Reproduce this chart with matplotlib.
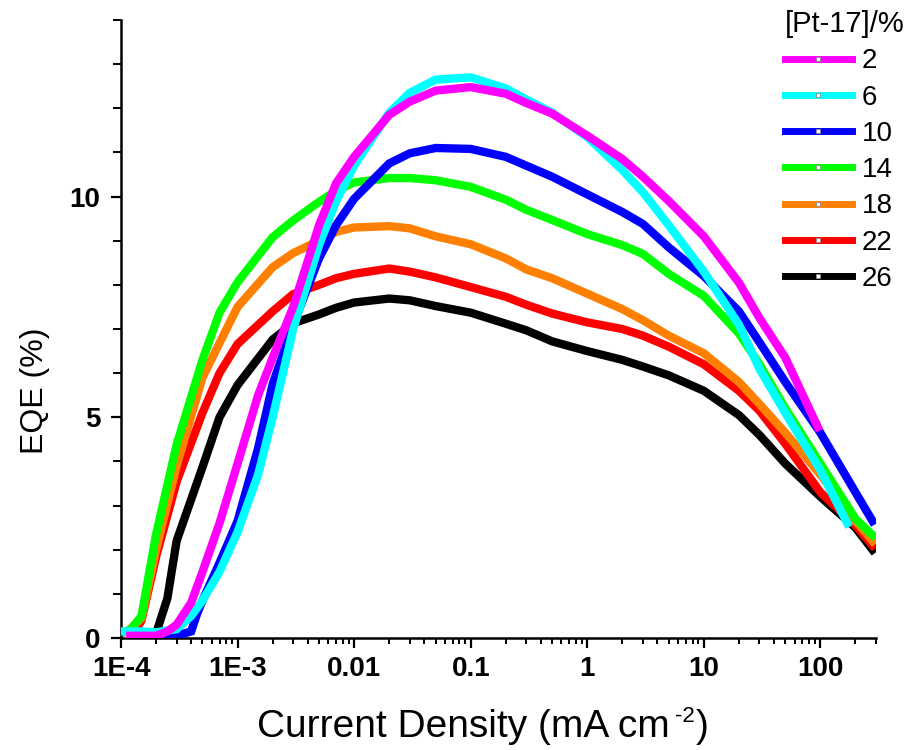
import matplotlib
matplotlib.use("Agg")
import matplotlib.pyplot as plt
from matplotlib.lines import Line2D
from matplotlib.ticker import MultipleLocator, LogLocator, NullFormatter

plt.rcParams['font.family'] = ['Liberation Sans', 'DejaVu Sans']

# EQE vs current density
x_2 = [1.2e-4, 2e-4, 2.5e-4, 3e-4, 4e-4, 5e-4, 7e-4, 1e-3, 1.5e-3, 2e-3, 3e-3, 5e-3, 7e-3,
       0.01, 0.02, 0.03, 0.05, 0.1, 0.2, 0.3, 0.5, 1, 2, 3, 5, 10, 20, 30, 50, 95]
eqe_2 = [0.05, 0.05, 0.15, 0.3, 0.8, 1.5, 2.6, 3.95, 5.5, 6.35, 7.5, 9.35, 10.3,
         10.9, 11.85, 12.15, 12.4, 12.48, 12.33, 12.12, 11.88, 11.38, 10.85, 10.45, 9.9,
         9.1, 8.05, 7.25, 6.35, 4.78]

x_6 = [1e-4, 1.5e-4, 2e-4, 3e-4, 4e-4, 5e-4, 7e-4, 1e-3, 1.5e-3, 2e-3, 3e-3, 5e-3, 7e-3,
       0.01, 0.02, 0.03, 0.05, 0.1, 0.2, 0.3, 0.5, 1, 2, 3, 5, 10, 20, 30, 50, 100, 170]
eqe_6 = [0.15, 0.15, 0.13, 0.2, 0.5, 0.85, 1.5, 2.4, 3.7, 5.0, 7.0, 8.9, 9.9,
         10.7, 11.9, 12.35, 12.65, 12.7, 12.45, 12.2, 11.9, 11.35, 10.6, 10.1, 9.35,
         8.3, 7.1, 6.1, 5.1, 3.8, 2.6]

x_10 = [2e-4, 3e-4, 4e-4, 4.5e-4, 5e-4, 7e-4, 1e-3, 1.5e-3, 2e-3, 3e-3, 5e-3, 7e-3,
        0.01, 0.02, 0.03, 0.05, 0.1, 0.2, 0.3, 0.5, 1, 2, 3, 5, 10, 20, 30, 50, 100, 200, 280]
eqe_10 = [0.03, 0.05, 0.15, 0.55, 0.85, 1.7, 2.65, 4.3, 5.75, 7.1, 8.6, 9.35,
          9.95, 10.75, 10.98, 11.1, 11.08, 10.9, 10.7, 10.45, 10.05, 9.65, 9.38, 8.85,
          8.2, 7.4, 6.7, 5.8, 4.65, 3.3, 2.65]

x_14 = [1.1e-4, 1.2e-4, 1.5e-4, 2e-4, 3e-4, 5e-4, 7e-4, 1e-3, 2e-3, 3e-3, 5e-3, 7e-3,
        0.01, 0.02, 0.03, 0.05, 0.1, 0.2, 0.3, 0.5, 1, 2, 3, 5, 10, 20, 30, 50, 100, 200, 280]
eqe_14 = [0.15, 0.18, 0.5, 2.35, 4.38, 6.3, 7.37, 8.06, 9.08, 9.46, 9.88, 10.13,
          10.32, 10.42, 10.42, 10.37, 10.22, 9.93, 9.7, 9.47, 9.15, 8.9, 8.7, 8.25,
          7.75, 6.9, 6.2, 5.2, 3.95, 2.7, 2.33]

x_18 = [1.1e-4, 1.2e-4, 1.5e-4, 2e-4, 3e-4, 5e-4, 7e-4, 1e-3, 2e-3, 3e-3, 5e-3, 7e-3,
        0.01, 0.02, 0.03, 0.05, 0.1, 0.2, 0.3, 0.5, 1, 2, 3, 5, 10, 20, 30, 50, 100, 200, 280]
eqe_18 = [0.15, 0.2, 0.45, 2.0, 3.9, 5.9, 6.68, 7.5, 8.4, 8.72, 9.0, 9.2,
          9.3, 9.33, 9.28, 9.1, 8.92, 8.6, 8.35, 8.15, 7.8, 7.45, 7.2, 6.85,
          6.45, 5.8, 5.3, 4.65, 3.7, 2.65, 2.2]

x_22 = [1.2e-4, 1.3e-4, 1.5e-4, 2e-4, 3e-4, 5e-4, 7e-4, 1e-3, 2e-3, 3e-3, 5e-3, 7e-3,
        0.01, 0.02, 0.03, 0.05, 0.1, 0.2, 0.3, 0.5, 1, 2, 3, 5, 10, 20, 30, 50, 100, 200, 280]
eqe_22 = [0.1, 0.12, 0.4, 1.84, 3.54, 5.1, 6.0, 6.66, 7.4, 7.79, 8.0, 8.15,
          8.25, 8.37, 8.3, 8.17, 7.95, 7.73, 7.55, 7.35, 7.15, 7.0, 6.85, 6.6,
          6.2, 5.6, 5.15, 4.4, 3.3, 2.55, 2.1]

x_26 = [1.5e-4, 2e-4, 2.5e-4, 3e-4, 5e-4, 7e-4, 1e-3, 2e-3, 3e-3, 5e-3, 7e-3,
        0.01, 0.02, 0.03, 0.05, 0.1, 0.2, 0.3, 0.5, 1, 2, 3, 5, 10, 20, 30, 50, 100, 200, 280]
eqe_26 = [0.06, 0.1, 0.9, 2.2, 3.87, 5.0, 5.73, 6.76, 7.13, 7.33, 7.48,
          7.6, 7.69, 7.65, 7.52, 7.37, 7.12, 6.97, 6.72, 6.5, 6.3, 6.15, 5.95,
          5.6, 5.05, 4.6, 3.95, 3.2, 2.5, 2.0]

labels = ['2', '6', '10', '14', '18', '22', '26']
colors = ['#FF00FF', '#00FFFF', '#0000FF', '#00FF00', '#FF8000', '#FF0000', '#000000']
series = [(x_2, eqe_2), (x_6, eqe_6), (x_10, eqe_10), (x_14, eqe_14),
          (x_18, eqe_18), (x_22, eqe_22), (x_26, eqe_26)]

xtick_vals = [1e-4, 1e-3, 0.01, 0.1, 1, 10, 100]
xtick_labels = ['1E-4', '1E-3', '0.01', '0.1', '1', '10', '100']

W, H = 912, 750
fig = plt.figure(figsize=(W / 100, H / 100), dpi=100)
ax = fig.add_axes([121 / W, 1 - 638 / H, 755 / W, 618 / H])

handles = []
for i, ((xs, ys), lab, col) in enumerate(zip(series, labels, colors)):
    ax.plot(xs, ys, color=col, lw=6, solid_joinstyle='miter', zorder=10 - i)
    handles.append(Line2D([], [], color=col, lw=5, marker='s', markersize=2.5,
                          markerfacecolor='white', markeredgecolor='#888888',
                          markeredgewidth=0.6, label=lab))

ax.set_xscale('log')
ax.set_xlim(1e-4, 300)
ax.set_ylim(0, 14)

ax.set_xticks(xtick_vals)
ax.set_xticklabels(xtick_labels)
ax.xaxis.set_minor_locator(LogLocator(base=10, subs=range(2, 10), numticks=20))
ax.xaxis.set_minor_formatter(NullFormatter())
ax.yaxis.set_major_locator(MultipleLocator(5))
ax.yaxis.set_minor_locator(MultipleLocator(1))

for lbl in ax.get_xticklabels() + ax.get_yticklabels():
    lbl.set_fontweight('bold')
    lbl.set_fontsize(20)

ax.tick_params(axis='both', which='major', direction='out', length=7, width=1.6)
ax.tick_params(axis='x', which='minor', direction='out', length=4.5, width=1.4)
ax.tick_params(axis='y', which='minor', direction='out', length=6, width=1.4)
ax.tick_params(axis='x', which='major', pad=6)
ax.tick_params(axis='y', which='major', pad=8)

for s in ['top', 'right']:
    ax.spines[s].set_visible(False)
for s in ['left', 'bottom']:
    ax.spines[s].set_linewidth(1.8)

ax.set_ylabel('EQE (%)', fontsize=23)
ax.yaxis.set_label_coords(-0.094, 0.40)

# x label with a plain hyphen in the superscript, pieced together
renderer = fig.canvas.get_renderer()
base_y = 1 - 737 / H
t1 = fig.text(257 / W, base_y, 'Current Density (mA cm', fontsize=28, va='baseline')
x_end = t1.get_window_extent(renderer).x1
t2 = fig.text(x_end / W + 5 / W, 1 - 722 / H, '-2', fontsize=16, va='baseline')
x_end = t2.get_window_extent(renderer).x1
fig.text(x_end / W + 1 / W, base_y, ')', fontsize=28, va='baseline')

leg = fig.legend(handles=handles, loc='upper left', bbox_to_anchor=(785 / W, 1 - 10 / H),
                 frameon=False, fontsize=20, title='[Pt-17]/%', title_fontsize=21,
                 handlelength=2.4, handletextpad=0.35, labelspacing=0.37,
                 borderpad=0, borderaxespad=0, alignment='left')

fig.savefig('out.png', dpi=100)
